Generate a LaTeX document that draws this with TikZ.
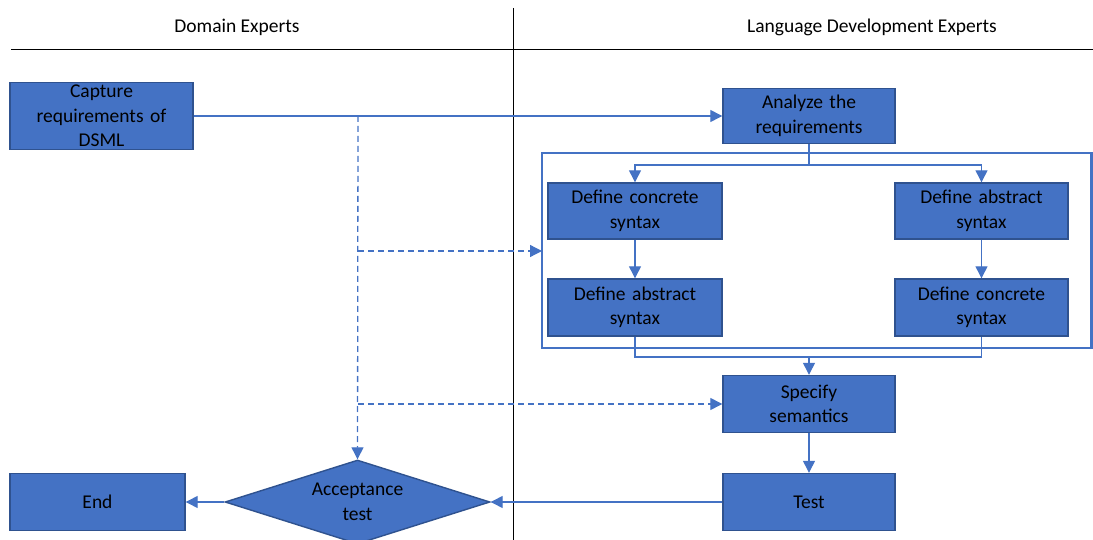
\documentclass[tikz,border=0pt]{standalone}
\usepackage{fontspec}
\setmainfont{Carlito}
\usetikzlibrary{arrows.meta,shapes.geometric,calc}
\definecolor{boxfill}{HTML}{4472C4}
\definecolor{boxedge}{HTML}{2F528F}
\definecolor{flow}{HTML}{4472C4}
\begin{document}
\begin{tikzpicture}[x=1pt,y=-1pt,
  every node/.style={font=\fontsize{19.5}{24.5}\selectfont},
  stepbox/.style={draw=boxedge,fill=boxfill,line width=1.4pt,align=center,
    inner sep=0pt,minimum width=#1,text width=#1-6pt},
  stepbox/.default=173pt,
  decision/.style={diamond,draw=boxedge,fill=boxfill,line width=1.4pt,align=center,
    inner sep=0pt,aspect=3.1,minimum width=265pt,minimum height=84pt},
  lane/.style={draw=black,line width=0.9pt},
  flowline/.style={draw=flow,line width=1.3pt},
  arr/.style={flowline,-{Triangle[length=12pt,width=12pt]}},
  darr/.style={arr,dash pattern=on 6pt off 4pt},
  group/.style={draw=flow,line width=2.2pt}]
\useasboundingbox (0,0) rectangle (1093,540);

% swimlanes
\draw[lane] (11,49) -- (1093,49);
\draw[lane] (513,8) -- (513,540);
\node (hdom) at (237,27) {Domain Experts};
\node (hlang) at (872,27) {Language Development Experts};

% activity group
\draw[group] (542,153) rectangle (1091.5,348);
\coordinate (grpw) at (542,251);

% steps
\node[stepbox=183pt,minimum height=67pt] (cap) at (101.5,116) {Capture\\requirements of\\DSML};
\node[stepbox=172pt,minimum height=55pt] (ana) at (809,116) {Analyze the\\requirements};
\node[stepbox=174pt,minimum height=56pt] (l1) at (635,211) {Define concrete\\syntax};
\node[stepbox=173pt,minimum height=56pt] (r1) at (981.5,211) {Define abstract\\syntax};
\node[stepbox=174pt,minimum height=57pt] (l2) at (635,307.5) {Define abstract\\syntax};
\node[stepbox=173pt,minimum height=57pt] (r2) at (981.5,307.5) {Define concrete\\syntax};
\node[stepbox=172pt,minimum height=57pt] (spec) at (809,404) {Specify\\semantics};
\node[stepbox=172pt,minimum height=57pt] (test) at (809,502) {Test};
\node[stepbox=175pt,minimum height=57pt] (end) at (97.5,502) {End};
\node[decision] (acc) at (357.5,502) {Acceptance\\test};

% main flow
\draw[arr] (cap.east) -- (ana.west);
\coordinate (split) at (809,165);
\draw[flowline] (ana.south) -- (split);
\draw[arr] (split) -| (l1.north);
\draw[arr] (split) -| (r1.north);
\draw[arr] (l1) -- (l2);
\draw[arr] (r1) -- (r2);
\coordinate (merge) at (809,357);
\draw[flowline] (l2.south) |- (merge) -| (r2.south);
\draw[arr] (merge) -- (spec.north);
\draw[arr] (spec) -- (test);
\draw[arr] (test.west) -- (acc.east);
\draw[arr] (acc.west) -- (end.east);

% review by domain experts
\coordinate (tap) at (358,116);
\coordinate (tapa) at (358,251);
\coordinate (tapb) at (358,404);
\draw[darr] (tap) -- (acc.north);
\draw[darr] (tapa) -- (grpw);
\draw[darr] (tapb) -- (spec.west);
\end{tikzpicture}
\end{document}
